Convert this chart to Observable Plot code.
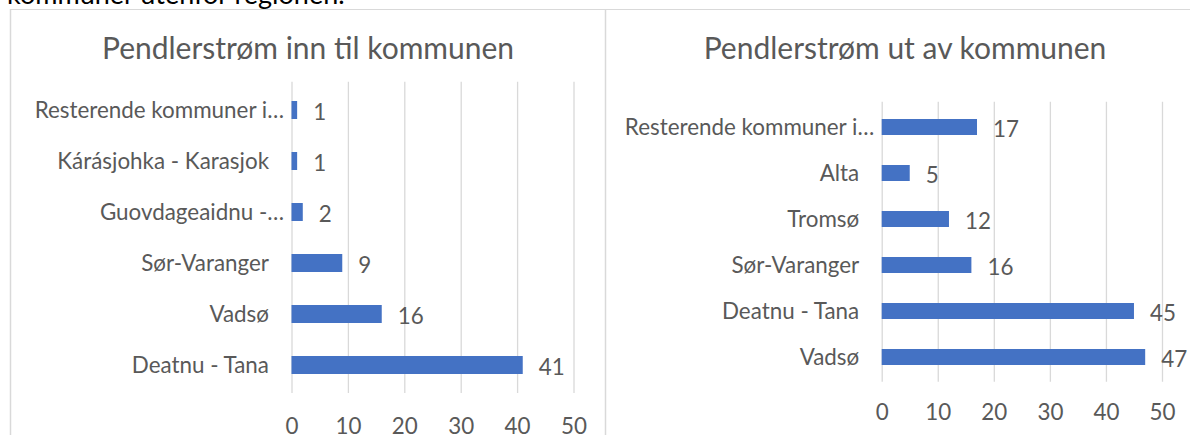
<!DOCTYPE html>
<html>
<head>
<meta charset="utf-8">
<script src="https://cdn.jsdelivr.net/npm/d3@7"></script>
<script src="https://cdn.jsdelivr.net/npm/@observablehq/plot@0.6"></script>
<style>
  html, body { margin: 0; padding: 0; background: #fff; }
  #wrap { position: relative; width: 1190px; height: 435px; overflow: hidden; font-family: Lato, "Open Sans", sans-serif; }
  .abs { position: absolute; }
</style>
</head>
<body>
<div id="wrap"></div>
<script>
// ---- data ----
const inTitle = "Pendlerstrøm inn til kommunen";
const outTitle = "Pendlerstrøm ut av kommunen";
const headText = "kommuner utenfor regionen.";

const inNames  = ["Resterende kommuner i…", "Kárásjohka - Karasjok", "Guovdageaidnu -…", "Sør-Varanger", "Vadsø", "Deatnu - Tana"];
const inValues = [1, 1, 2, 9, 16, 41];

const outNames  = ["Resterende kommuner i…", "Alta", "Tromsø", "Sør-Varanger", "Deatnu - Tana", "Vadsø"];
const outValues = [17, 5, 12, 16, 45, 47];

const xTicks = [0, 10, 20, 30, 40, 50];

// ---- styling ----
const BLUE = "#4472C4", GRID = "#d9d9d9", TXT = "#595959";
const FONT = "Lato, 'Open Sans', sans-serif";
const LABEL_SIZE = 22.4;
const TITLE_SIZE = 30;
const wrap = document.getElementById("wrap");

// frame, titles, cut-off text
const svg = d3.select(wrap).append("svg").attr("class", "abs")
  .attr("width", 1190).attr("height", 435).style("left", 0).style("top", 0);
svg.append("line").attr("x1", 10).attr("x2", 1190).attr("y1", 9.5).attr("y2", 9.5).attr("stroke", GRID).attr("stroke-width", 1.2);
svg.append("line").attr("x1", 10.5).attr("x2", 10.5).attr("y1", 9).attr("y2", 435).attr("stroke", GRID).attr("stroke-width", 1.5);
svg.append("line").attr("x1", 605.5).attr("x2", 605.5).attr("y1", 9).attr("y2", 435).attr("stroke", GRID).attr("stroke-width", 1.5);
svg.append("text").attr("x", 7).attr("y", 4).attr("font-family", FONT).attr("font-size", 27).attr("fill", "#000").text(headText);
svg.append("text").attr("x", 308).attr("y", 59.3).attr("text-anchor", "middle").attr("font-family", FONT).attr("font-size", TITLE_SIZE).attr("fill", TXT).text(inTitle);
svg.append("text").attr("x", 905).attr("y", 59.3).attr("text-anchor", "middle").attr("font-family", FONT).attr("font-size", TITLE_SIZE).attr("fill", TXT).text(outTitle);

function chart(names, values, opt) {
  const data = names.map((n, i) => ({name: n, value: values[i]}));
  const trunc = names.filter(n => n.endsWith("…"));
  const plain = names.filter(n => !n.endsWith("…"));
  return Plot.plot({
    width: opt.width, height: opt.height,
    marginLeft: opt.ml, marginRight: opt.mr, marginTop: opt.mt, marginBottom: opt.mb,
    style: {fontFamily: FONT, fontSize: LABEL_SIZE + "px", color: TXT, background: "transparent", overflow: "visible"},
    x: {domain: [0, 50]},
    y: {domain: names, paddingInner: opt.pi, paddingOuter: opt.pi / 2},
    marks: [
      Plot.gridX(xTicks, {stroke: GRID, strokeOpacity: 1, strokeWidth: 1.3}),
      Plot.barX(data, {x: "value", y: "name", fill: BLUE}),
      Plot.text(data, {x: "value", y: "name", text: d => String(d.value), textAnchor: "start", dx: 15.5, dy: 2, fill: TXT}),
      Plot.axisX(xTicks, {tickSize: 0, tickPadding: opt.xpad, label: null, fill: TXT}),
      Plot.axisY(plain, {tickSize: 0, tickPadding: 23, label: null, fill: TXT}),
      Plot.axisY(trunc, {tickSize: 0, tickPadding: 8, label: null, fill: TXT})
    ]
  });
}

const left = chart(inNames, inValues, {width: 595, height: 426, ml: 281.5, mr: 31.5, mt: 72.7, mb: 42, pi: 0.64, xpad: 24.5});
left.classList.add("abs"); left.style.left = "10px"; left.style.top = "9px";
wrap.appendChild(left);

const right = chart(outNames, outValues, {width: 585, height: 426, ml: 276.7, mr: 28, mt: 92.7, mb: 53.3, pi: 0.657, xpad: 22});
right.classList.add("abs"); right.style.left = "605px"; right.style.top = "9px";
wrap.appendChild(right);
</script>
</body>
</html>
